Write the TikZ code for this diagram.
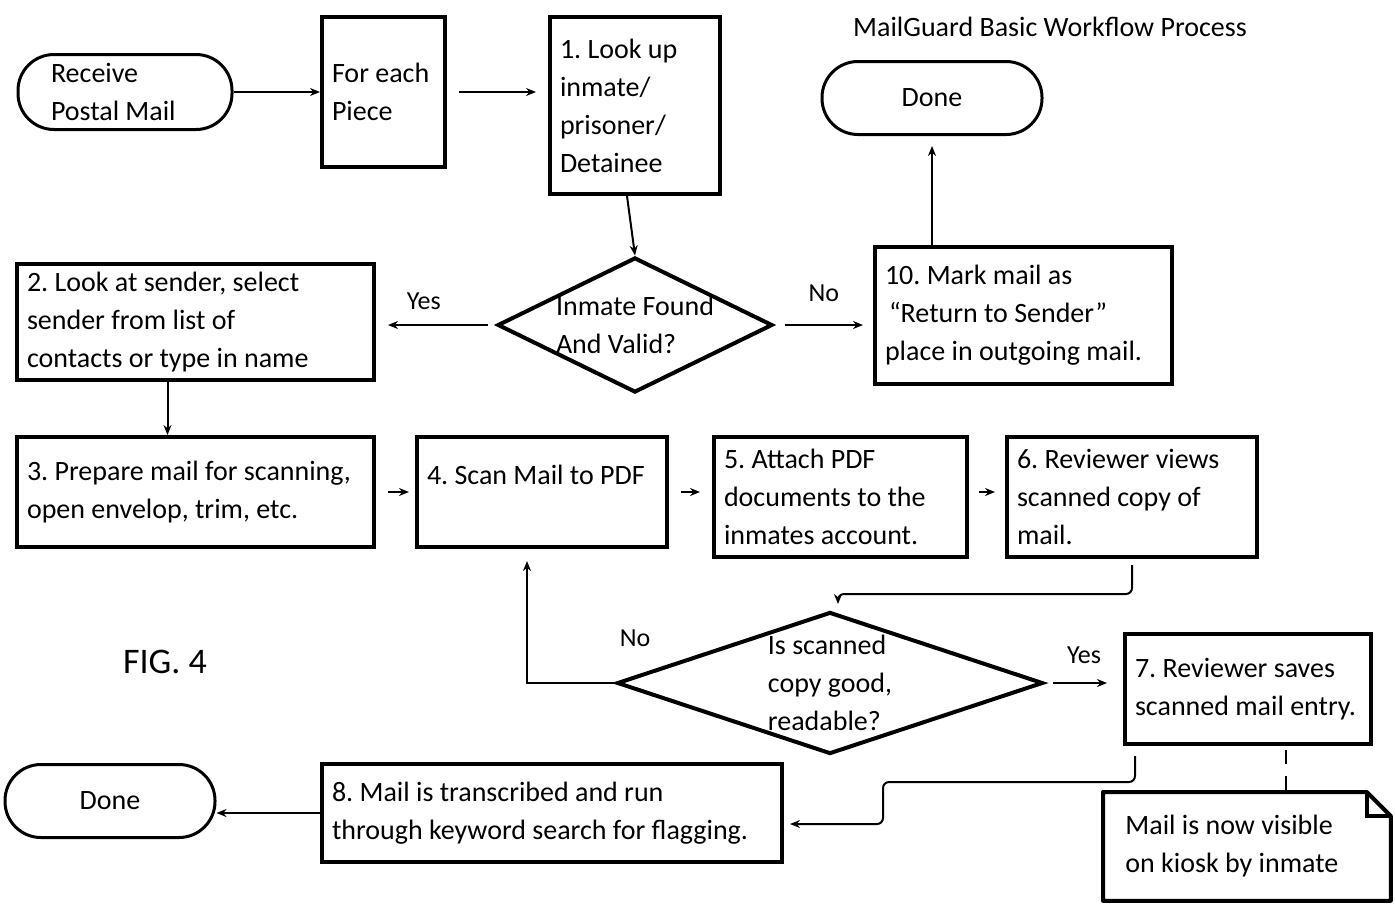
\documentclass[tikz,border=0pt]{standalone}
\usepackage{fontspec}
\setmainfont{Carlito}
\usepackage{tikz}
\usetikzlibrary{shapes.geometric, arrows.meta, positioning}

\begin{document}
\begin{tikzpicture}[
  x=0.5pt, y=-0.5pt,
  font=\fontsize{14}{19}\selectfont\frenchspacing,
  procbox/.style={rectangle, draw, line width=2pt, align=flush left, anchor=north west,
                  inner xsep=5pt, inner ysep=0pt},
  term/.style={rectangle, rounded corners=18pt, draw, line width=1.5pt,
               align=center, inner sep=0pt},
  decision/.style={diamond, draw, line width=2pt, inner sep=0pt},
  notebox/.style={rectangle, align=flush left, anchor=north west, inner xsep=11pt, inner ysep=0pt},
  arrow/.style={-{Stealth[length=5pt, width=4pt]}, line width=1pt},
  lbl/.style={font=\fontsize{13}{15}\selectfont},
]
\useasboundingbox (0,0) rectangle (1395,911);

% title and figure number
\node (title) at (1050,27) {MailGuard Basic Workflow Process};
\node[font=\fontsize{18}{20}\selectfont] (fig) at (165,662) {FIG. 4};

% top row
\node[term, align=flush left, text width=74pt, minimum width=107pt, minimum height=37.5pt] (recv) at (125,92) {Receive\\Postal Mail};
\node[procbox, text width=51.5pt, minimum height=75pt] (each) at (320,15) {For each\\Piece};
\node[procbox, text width=75pt, minimum height=88.5pt] (look) at (548,15) {1. Look up\\inmate/\\prisoner/\\Detainee};
\node[term, minimum width=110pt, minimum height=36.5pt] (done1) at (932,98) {Done};

% first decision
\node[decision, minimum width=137.5pt, minimum height=67.5pt,
      label={[align=left]center:Inmate Found\\And Valid?}] (d1) at (635,325) {};
\node[procbox, text width=168.5pt, minimum height=58pt] (b2) at (15,262) {2. Look at sender, select\\sender from list of\\contacts or type in name};
\node[procbox, text width=138.5pt, minimum height=68.5pt] (b10) at (873,245) {10. Mark mail as\\\hspace*{2pt}“Return to Sender”\\place in outgoing mail.};

% middle row
\node[procbox, text width=168.5pt, minimum height=55pt] (b3) at (15,435) {3. Prepare mail for scanning,\\open envelop, trim, etc.};
\node[procbox, text width=115pt, minimum height=55pt, text depth=17pt] (b4) at (415,435) {4. Scan Mail to PDF};
\node[procbox, text width=116.5pt, minimum height=60pt] (b5) at (712,435) {5. Attach PDF\\documents to the\\inmates account.};
\node[procbox, text width=115pt, minimum height=60pt] (b6) at (1005,435) {6. Reviewer views\\scanned copy of\\mail.};

% second decision
\node[decision, minimum width=213pt, minimum height=71pt,
      label={[align=left]center:Is scanned\\copy good,\\readable?}] (d2) at (830,683) {};
\node[procbox, text width=113pt, minimum height=55pt] (b7) at (1123,632) {7. Reviewer saves\\scanned mail entry.};

% bottom row
\node[notebox, text width=121.5pt, minimum height=54pt] (note) at (1103,792) {Mail is now visible\\on kiosk by inmate};
\draw[line width=2pt, line join=round] (note.north west) -- ([xshift=-12pt]note.north east)
  -- ([yshift=-12pt]note.north east) -- (note.south east) -- (note.south west) -- cycle;
\draw[line width=2pt] ([xshift=-12pt]note.north east) |- ([yshift=-12pt]note.north east);
\node[procbox, text width=220pt, minimum height=49pt] (b8) at (320,762) {8. Mail is transcribed and run\\through keyword search for flagging.};
\node[term, minimum width=105pt, minimum height=36.5pt] (done2) at (110,801) {Done};

% connectors
\draw[arrow] (recv.east) -- (recv.east -| each.west);
\draw[arrow, shorten <=6pt, shorten >=6pt] (each.east) -- (each.east -| look.west);
\draw[arrow] ([xshift=-4pt]look.south) -- (d1.north);
\draw[arrow, shorten <=4pt, shorten >=6pt] (d1.west) -- (d1.west -| b2.east)
  node[lbl, pos=0.6, above=4pt] (yes1) {Yes};
\draw[arrow, shorten <=5pt, shorten >=5pt] (d1.east) -- (d1.east -| b10.west)
  node[lbl, midway, above=8pt] (no1) {No};
\draw[arrow, shorten >=5pt] (b10.north -| done1.south) -- (done1.south);
\draw[arrow] ([xshift=-14pt]b2.south) -- ([xshift=-14pt]b3.north);
\draw[arrow, shorten <=6pt, shorten >=3pt] (b3.east) -- (b3.east -| b4.west);
\draw[arrow, shorten <=6pt, shorten >=6pt] (b4.east) -- (b4.east -| b5.west);
\draw[arrow, shorten <=5pt, shorten >=5pt] (b4.east -| b5.east) -- (b4.east -| b6.west);
\draw[arrow, rounded corners=3pt, shorten <=3pt, shorten >=3pt] (b6.south) -- ++(0,35) -| ([xshift=4pt]d2.north);
\draw[arrow] (d2.west) -| ([xshift=-7.5pt, yshift=-6pt]b4.south);
\node[lbl] (no2) at ([shift={(10pt,22.5pt)}]d2.west) {No};
\draw[arrow, shorten <=4pt, shorten >=8pt] (d2.east) -- (d2.east -| b7.west)
  node[lbl, midway, above=6pt] (yes2) {Yes};
\coordinate (bend) at (883,782);
\draw[arrow, rounded corners=3pt] ([xshift=6pt, yshift=-5pt]b7.south west) |- (bend)
  |- ([xshift=3pt, yshift=-5.5pt]b8.east);
\draw[arrow] (b8.west) -- (b8.west -| done2.east);
\coordinate (dtop) at ([xshift=19pt, yshift=-2pt]b7.south);
\draw[line width=1.2pt, dash pattern=on 7pt off 6pt] (dtop) -- (dtop |- note.north);
\end{tikzpicture}
\end{document}
